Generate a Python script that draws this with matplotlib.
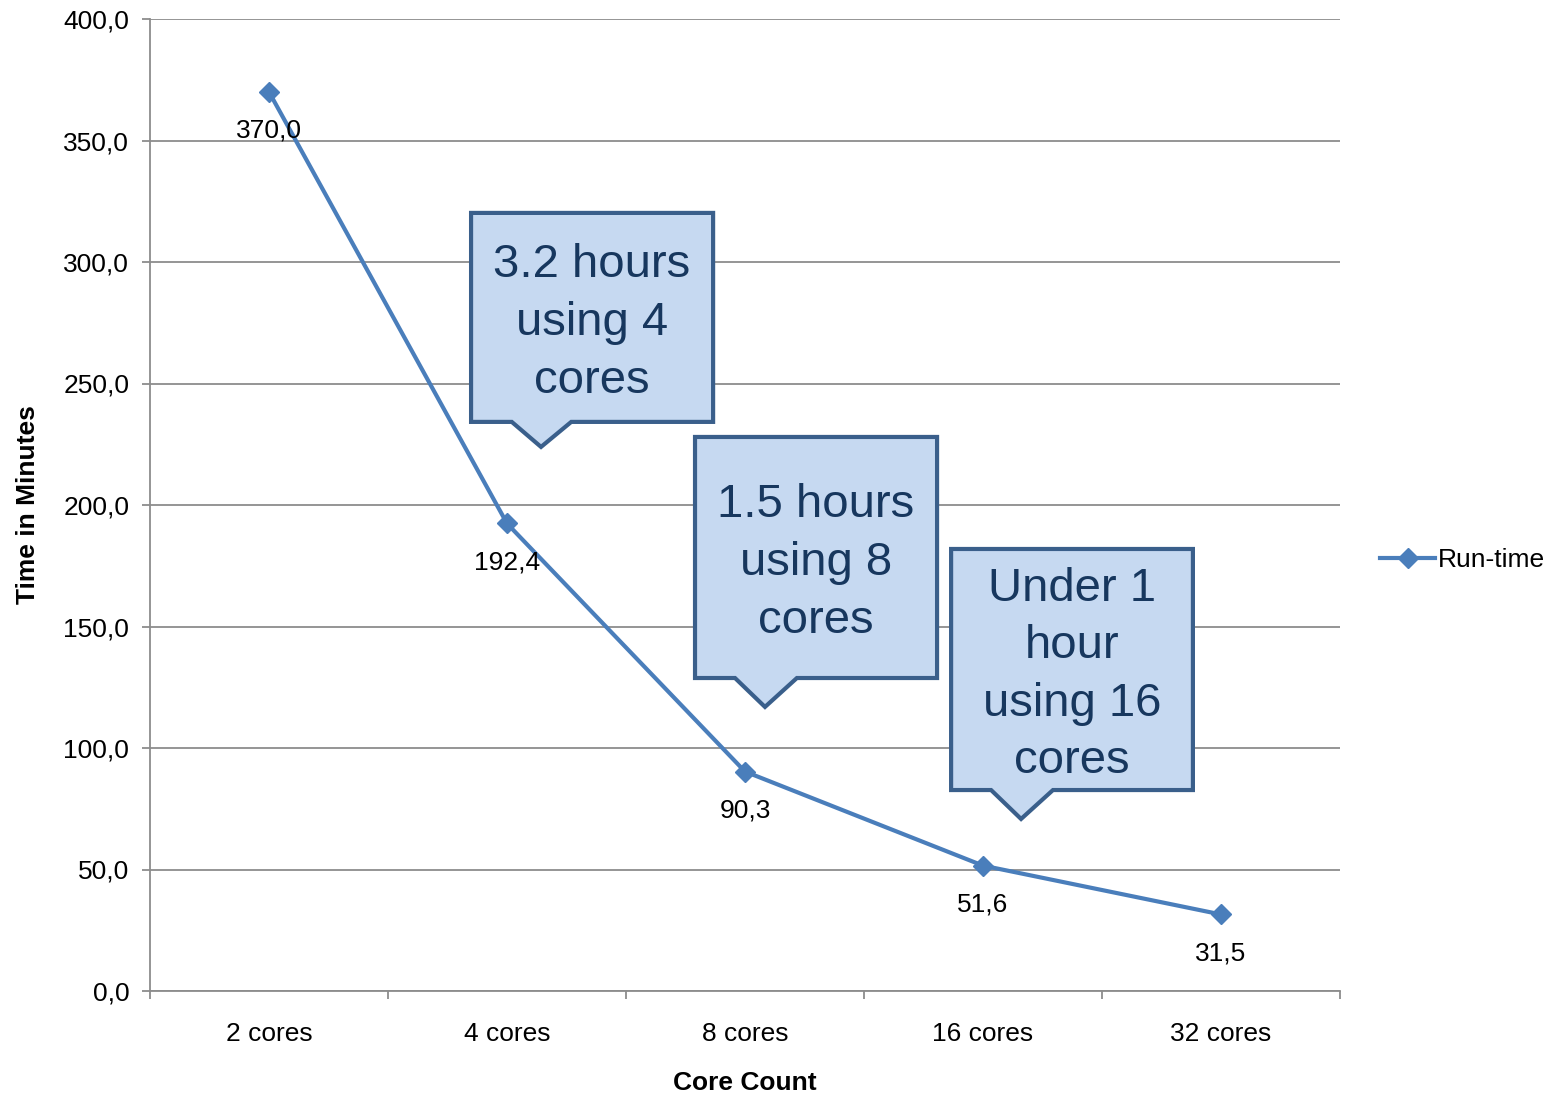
import matplotlib
matplotlib.use("Agg")
import matplotlib.pyplot as plt
from matplotlib.patches import Polygon
from matplotlib.lines import Line2D

plt.rcParams['font.family'] = ['Liberation Sans', 'DejaVu Sans']

categories = ["2 cores", "4 cores", "8 cores", "16 cores", "32 cores"]
runtime = [370.0, 192.4, 90.3, 51.6, 31.5]
yticks = [0, 50, 100, 150, 200, 250, 300, 350, 400]

callout_texts = ["3.2 hours\nusing 4\ncores",
                 "1.5 hours\nusing 8\ncores",
                 "Under 1\nhour\nusing 16\ncores"]

LINE = "#4A7EBB"
GRID = "#8C8C8C"
FILL = "#C6D9F1"
EDGE = "#3A5F8B"
TXT = "#17375E"
FS = 19

fig = plt.figure(figsize=(15.56, 10.94), dpi=100)
ax = fig.add_axes([150/1556, 1-991/1094, 1190/1556, 972/1094])

x = list(range(len(categories)))
ax.plot(x, runtime, color=LINE, lw=3, marker="D", markersize=10, zorder=3)
for xi, v in zip(x, runtime):
    ax.annotate(f"{v:.1f}".replace(".", ","), (xi, v), xytext=(0, -28),
                textcoords="offset points", ha="center", va="center",
                fontsize=FS, zorder=4)

ax.set_xlim(-0.5, 4.5)
ax.set_ylim(0, 400)
ax.set_yticks(yticks)
ax.set_yticklabels([f"{t:.1f}".replace(".", ",") for t in yticks], fontsize=FS)
ax.yaxis.grid(True, color=GRID, lw=1.3)
ax.set_axisbelow(True)
ax.set_xticks(x)
ax.set_xticklabels(categories, fontsize=FS)
ax.set_xticks([i - 0.5 for i in range(len(categories) + 1)], minor=True)
ax.tick_params(axis="x", which="major", length=0, pad=22)
ax.tick_params(axis="x", which="minor", length=6, color=GRID, width=1.3, direction="out")
ax.tick_params(axis="y", length=6, color=GRID, width=1.3, pad=9)
for s in ["top", "right"]:
    ax.spines[s].set_visible(False)
for s in ["left", "bottom"]:
    ax.spines[s].set_color(GRID)
    ax.spines[s].set_linewidth(1.3)

ax.set_ylabel("Time in Minutes", fontsize=FS, fontweight="bold", labelpad=17)
ax.set_xlabel("Core Count", fontsize=FS, fontweight="bold", labelpad=18)

# callout boxes: left, right, top, bottom, base_left, base_right, tip_x, tip_y
boxes = [
    (0.849, 1.866, 320.2, 234.2, 1.02, 1.27, 1.143, 223.9),
    (1.790, 2.807, 228.0, 128.8, 1.958, 2.218, 2.084, 116.9),
    (2.866, 3.882, 181.9, 82.7, 3.034, 3.294, 3.160, 70.8),
]
for (l, r, t, b, bl, br, tx, ty), txt in zip(boxes, callout_texts):
    poly = Polygon([(l, t), (r, t), (r, b), (br, b), (tx, ty), (bl, b), (l, b)],
                   closed=True, facecolor=FILL, edgecolor=EDGE, lw=3, zorder=5,
                   joinstyle="miter")
    ax.add_patch(poly)
    ax.annotate(txt, ((l + r) / 2, (t + b) / 2), xytext=(0, -4),
                textcoords="offset points", ha="center", va="center",
                fontsize=34, color=TXT, linespacing=1.4, zorder=6)

handle = Line2D([], [], color=LINE, lw=3, marker="D", markersize=10)
fig.legend([handle], ["Run-time"], loc="center left",
           bbox_to_anchor=(1380/1556, 1-560/1094), frameon=False,
           borderaxespad=0, borderpad=0,
           fontsize=FS, handlelength=2.1, handletextpad=0.1)

fig.savefig("out.png", dpi=100)
